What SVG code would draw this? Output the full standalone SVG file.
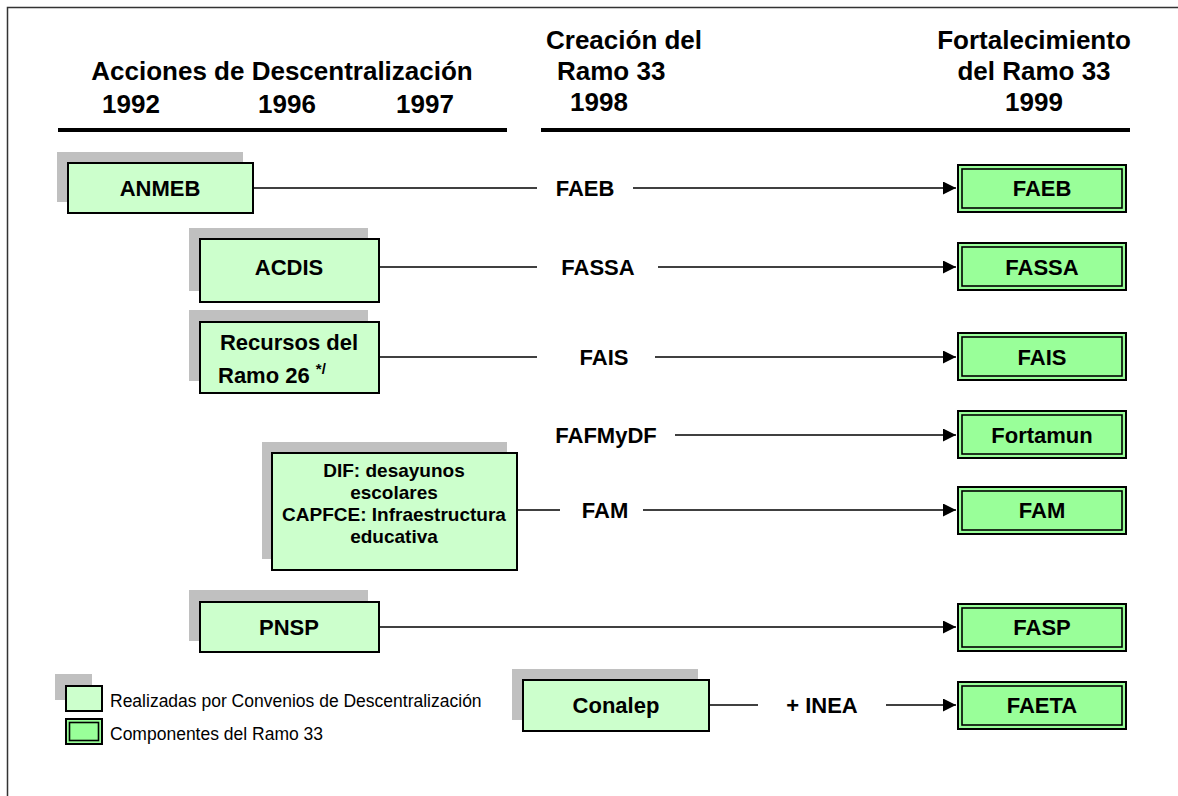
<svg xmlns="http://www.w3.org/2000/svg" width="1178" height="796" viewBox="0 0 1178 796">
<defs>
<style>
text{font-family:"Liberation Sans",Arial,sans-serif;fill:#000}
.h{font-size:26px;font-weight:bold}
.n{font-size:22px;font-weight:bold;text-anchor:middle}
.ns{font-size:22px;font-weight:bold;text-anchor:start}
.d{font-size:19px;font-weight:bold;text-anchor:middle}
.lg{font-size:17.5px}
.sh{fill:#C0C0C0}
.bx{fill:#CCFFCC;stroke:#000;stroke-width:2}
.ro{fill:#99FF99;stroke:#000;stroke-width:2}
.ri{fill:none;stroke:#000;stroke-width:1.6}
.c{stroke:#000;stroke-width:1.3;fill:none}
.hl{stroke:#000;stroke-width:4}
</style>
<marker id="ar" markerUnits="userSpaceOnUse" markerWidth="14" markerHeight="14" refX="13" refY="6.5" orient="auto">
<path d="M0,0 L13,6.5 L0,13 z" fill="#000"/>
</marker>
</defs>
<rect x="0" y="0" width="1178" height="796" fill="#fff"/>
<rect x="7.5" y="7.5" width="1300" height="1000" fill="none" stroke="#333" stroke-width="1.5"/>

<g id="headers">
<text class="h" x="282" y="80" text-anchor="middle">Acciones de Descentralización</text>
<text class="h" x="131" y="113" text-anchor="middle">1992</text>
<text class="h" x="287" y="113" text-anchor="middle">1996</text>
<text class="h" x="425" y="113" text-anchor="middle">1997</text>
<text class="h" x="546" y="49">Creación del</text>
<text class="h" x="557" y="80">Ramo 33</text>
<text class="h" x="570" y="111">1998</text>
<text class="h" x="1034" y="49" text-anchor="middle">Fortalecimiento</text>
<text class="h" x="1034" y="80" text-anchor="middle">del Ramo 33</text>
<text class="h" x="1034" y="111" text-anchor="middle">1999</text>
<line class="hl" x1="58" y1="130" x2="507" y2="130"/>
<line class="hl" x1="541" y1="130" x2="1130" y2="130"/>
</g>

<g id="connectors">
<line class="c" x1="253" y1="188" x2="537" y2="188"/>
<line class="c" x1="633" y1="188" x2="956" y2="188" marker-end="url(#ar)"/>
<line class="c" x1="379" y1="267" x2="537" y2="267"/>
<line class="c" x1="658" y1="267" x2="956" y2="267" marker-end="url(#ar)"/>
<line class="c" x1="379" y1="357" x2="537" y2="357"/>
<line class="c" x1="655" y1="357" x2="956" y2="357" marker-end="url(#ar)"/>
<line class="c" x1="675" y1="435" x2="956" y2="435" marker-end="url(#ar)"/>
<line class="c" x1="517" y1="510" x2="560" y2="510"/>
<line class="c" x1="643" y1="510" x2="956" y2="510" marker-end="url(#ar)"/>
<line class="c" x1="379" y1="627" x2="956" y2="627" marker-end="url(#ar)"/>
<line class="c" x1="709" y1="705" x2="758" y2="705"/>
<line class="c" x1="886" y1="705" x2="956" y2="705" marker-end="url(#ar)"/>
</g>

<g id="labels">
<text class="n" x="585" y="196">FAEB</text>
<text class="n" x="598" y="275">FASSA</text>
<text class="n" x="604" y="365">FAIS</text>
<text class="n" x="606" y="443">FAFMyDF</text>
<text class="n" x="605" y="518">FAM</text>
<text class="n" x="822" y="713">+ INEA</text>
</g>

<g id="anmeb">
<rect class="sh" x="57" y="152" width="186" height="50"/>
<rect class="bx" x="68" y="163" width="185" height="50"/>
<text class="n" x="160" y="196">ANMEB</text>
</g>
<g id="acdis">
<rect class="sh" x="189" y="228" width="179" height="63"/>
<rect class="bx" x="200" y="239" width="179" height="63"/>
<text class="n" x="289" y="275">ACDIS</text>
</g>
<g id="recursos">
<rect class="sh" x="189" y="310" width="179" height="71"/>
<rect class="bx" x="200" y="322" width="179" height="71"/>
<text class="n" x="289" y="350">Recursos del</text>
<text class="ns" x="218" y="383">Ramo 26 <tspan font-size="15" dy="-9">*/</tspan></text>
</g>
<g id="dif">
<rect class="sh" x="262" y="442" width="245" height="117"/>
<rect class="bx" x="272" y="453" width="245" height="117"/>
<text class="d" x="394" y="477">DIF: desayunos</text>
<text class="d" x="394" y="499">escolares</text>
<text class="d" x="394" y="521">CAPFCE: Infraestructura</text>
<text class="d" x="394" y="543">educativa</text>
</g>
<g id="pnsp">
<rect class="sh" x="189" y="590" width="179" height="51"/>
<rect class="bx" x="200" y="602" width="179" height="50"/>
<text class="n" x="289" y="635">PNSP</text>
</g>
<g id="conalep">
<rect class="sh" x="512" y="669" width="186" height="51"/>
<rect class="bx" x="523" y="680" width="186" height="51"/>
<text class="n" x="616" y="713">Conalep</text>
</g>

<g id="faeb"><rect class="ro" x="958" y="165" width="168" height="47"/><rect class="ri" x="962" y="169" width="160" height="39"/><text class="n" x="1042" y="196">FAEB</text></g>
<g id="fassa"><rect class="ro" x="958" y="243" width="168" height="47"/><rect class="ri" x="962" y="247" width="160" height="39"/><text class="n" x="1042" y="275">FASSA</text></g>
<g id="fais"><rect class="ro" x="958" y="333" width="168" height="47"/><rect class="ri" x="962" y="337" width="160" height="39"/><text class="n" x="1042" y="365">FAIS</text></g>
<g id="fortamun"><rect class="ro" x="958" y="411" width="168" height="47"/><rect class="ri" x="962" y="415" width="160" height="39"/><text class="n" x="1042" y="443">Fortamun</text></g>
<g id="fam"><rect class="ro" x="958" y="487" width="168" height="47"/><rect class="ri" x="962" y="491" width="160" height="39"/><text class="n" x="1042" y="518">FAM</text></g>
<g id="fasp"><rect class="ro" x="958" y="604" width="168" height="47"/><rect class="ri" x="962" y="608" width="160" height="39"/><text class="n" x="1042" y="635">FASP</text></g>
<g id="faeta"><rect class="ro" x="958" y="682" width="168" height="47"/><rect class="ri" x="962" y="686" width="160" height="39"/><text class="n" x="1042" y="713">FAETA</text></g>

<g id="legend">
<rect class="sh" x="55" y="674" width="37" height="26"/>
<rect class="bx" x="66" y="686" width="36" height="25"/>
<text class="lg" x="110" y="707">Realizadas por Convenios de Descentralización</text>
<rect class="ro" x="66" y="719" width="36" height="25"/>
<rect class="ri" x="69.5" y="722.5" width="29" height="18"/>
<text class="lg" x="110" y="740">Componentes del Ramo 33</text>
</g>
</svg>
